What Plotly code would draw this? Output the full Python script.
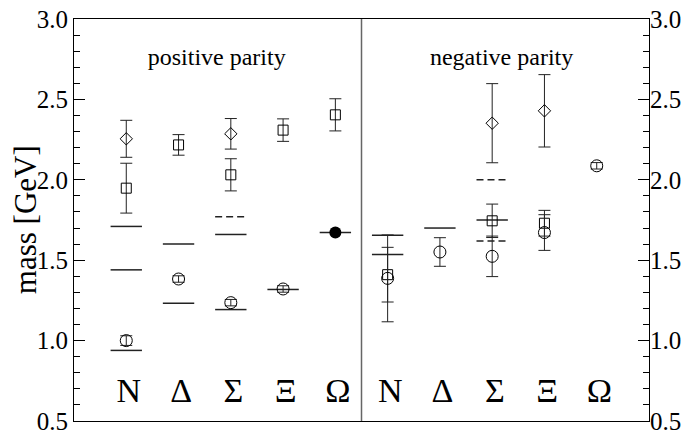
import plotly.graph_objects as go

categories = ["N", "Δ", "Σ", "Ξ", "Ω"]
panel_labels = ["positive parity", "negative parity"]

# lattice masses (GeV), one entry per category, None = no point
pos_circle = [1.00, 1.383, 1.236, 1.321, None]
pos_circle_err = [0.03, 0.02, 0.02, 0.02, None]
pos_square = [1.948, 2.217, 2.031, 2.309, 2.404]
pos_square_err = [0.155, 0.064, 0.10, 0.07, 0.10]
pos_diamond = [2.255, None, 2.286, None, None]
pos_diamond_err = [0.115, None, 0.095, None, None]
pos_filled = [None, None, None, None, 1.672]

neg_circle = [1.387, 1.551, 1.524, 1.672, 2.087]
neg_circle_err = [0.27, 0.089, 0.126, 0.111, 0.02]
neg_square = [1.41, None, 1.745, 1.730, None]
neg_square_err = [0.17, None, 0.104, 0.08, None]
neg_diamond = [None, None, 2.352, 2.429, None]
neg_diamond_err = [None, None, 0.246, 0.225, None]

# experimental states (GeV)
exp_pos_solid = [[0.939, 1.44, 1.71], [1.232, 1.60], [1.193, 1.66], [1.318], [1.672]]
exp_pos_dashed = [[], [], [1.77], [], []]
exp_neg_solid = [[1.535, 1.655], [1.70], [1.75], [], []]
exp_neg_dashed = [[], [], [1.62, 2.00], [], []]

pos_x = [i + 1 for i in range(len(categories))]
neg_x = [i + 6 for i in range(len(categories))]
all_x = pos_x + neg_x

FONT = "Liberation Serif, Times New Roman, serif"
HALF = 0.3


def segments(xs, levels):
    sx, sy = [], []
    for x, ms in zip(xs, levels):
        for m in ms:
            sx += [x - HALF, x + HALF, None]
            sy += [m, m, None]
    return sx, sy


fig = go.Figure()

sx, sy = segments(all_x, exp_pos_solid + exp_neg_solid)
fig.add_trace(go.Scatter(x=sx, y=sy, mode="lines",
                         line=dict(color="#222", width=1.5)))
sx, sy = segments(all_x, exp_pos_dashed + exp_neg_dashed)
fig.add_trace(go.Scatter(x=sx, y=sy, mode="lines",
                         line=dict(color="#222", width=1.5, dash="7px,4px")))


def points(y, err, symbol, size):
    return go.Scatter(
        x=all_x, y=y, mode="markers",
        marker=dict(symbol=symbol, size=size, color="black",
                    line=dict(color="black", width=1)),
        error_y=dict(type="data", array=err, width=6, thickness=1, color="#222"),
    )


fig.add_trace(points(pos_square + neg_square, pos_square_err + neg_square_err, "square-open", 10))
fig.add_trace(points(pos_diamond + neg_diamond, pos_diamond_err + neg_diamond_err, "diamond-open", 9.5))
fig.add_trace(points(pos_circle + neg_circle, pos_circle_err + neg_circle_err, "circle-open", 12))
fig.add_trace(go.Scatter(x=pos_x, y=pos_filled, mode="markers",
                         marker=dict(symbol="circle", size=12, color="black")))

# particle labels and panel captions
fig.add_trace(go.Scatter(x=[x + 0.05 for x in all_x], y=[0.668] * len(all_x),
                         text=categories * 2, mode="text",
                         textfont=dict(family=FONT, size=34, color="black")))
fig.add_trace(go.Scatter(x=[2.73, 8.18], y=[2.75, 2.75], text=panel_labels, mode="text",
                         textfont=dict(family=FONT, size=24, color="black")))

# dummy trace so the right-hand axis is drawn
fig.add_trace(go.Scatter(x=[None], y=[None], yaxis="y2"))

yticks = dict(range=[0.5, 3.0], tick0=0.5, dtick=0.5, tickformat=".1f",
              ticks="inside", ticklen=11, tickcolor="black", automargin=False,
              ticklabeloverflow="allow",
              minor=dict(dtick=0.1, ticks="inside", ticklen=6, tickcolor="black"),
              showgrid=False, zeroline=False,
              tickfont=dict(family=FONT, size=25, color="black"))

fig.update_layout(
    width=686, height=431,
    margin=dict(l=74, r=37, t=19, b=10),
    plot_bgcolor="white", paper_bgcolor="white",
    showlegend=False,
    font=dict(family=FONT, color="black"),
    xaxis=dict(range=[0, 11], showgrid=False, zeroline=False, showticklabels=False,
               automargin=False, ticks="", showline=True, linecolor="black",
               linewidth=1, mirror=True),
    yaxis=dict(showline=True, linecolor="black", linewidth=1, mirror=True, **yticks),
    yaxis2=dict(overlaying="y", side="right", showline=False, **yticks),
    shapes=[dict(type="line", xref="x", yref="y", x0=5.5, x1=5.5, y0=0.5, y1=3.0,
                 line=dict(color="#666", width=1.5))],
    annotations=[dict(text="mass [GeV]", xref="paper", yref="paper", x=-0.085, y=0.5,
                      xanchor="center", yanchor="middle", textangle=-90, showarrow=False,
                      font=dict(family=FONT, size=31, color="black"))],
)

fig.write_html("out.html", config={"displayModeBar": False},
               post_script="document.body.style.margin='0';")
